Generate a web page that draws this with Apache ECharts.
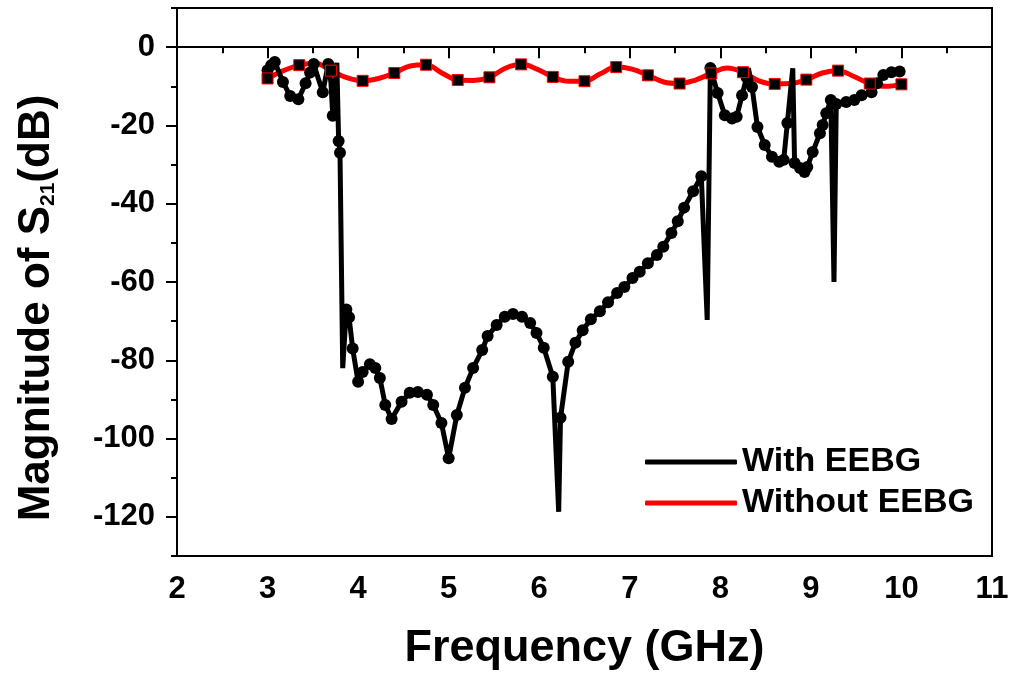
<!DOCTYPE html>
<html>
<head>
<meta charset="utf-8">
<script src="https://cdn.jsdelivr.net/npm/echarts@6/dist/echarts.min.js"></script>
<style>
html,body{margin:0;padding:0;background:#fff;}
#chart{width:1012px;height:677px;}
</style>
</head>
<body>
<div id="chart"></div>
<script>
// ---- Data ----
// "With EEBG" (black), frequency in GHz, S21 in dB, and whether a dot marker is drawn
var withFreq = [3.00,3.04,3.08,3.17,3.25,3.34,3.42,3.47,3.51,3.56,3.61,3.67,3.70,3.72,3.765,3.785,3.80,3.83,3.87,3.90,3.94,4.00,4.05,4.13,4.19,4.24,4.30,4.37,4.48,4.57,4.66,4.76,4.83,4.92,5.00,5.09,5.18,5.27,5.37,5.43,5.53,5.62,5.71,5.81,5.90,5.97,6.05,6.15,6.215,6.235,6.32,6.40,6.48,6.57,6.67,6.76,6.86,6.94,7.03,7.11,7.20,7.30,7.37,7.46,7.53,7.60,7.70,7.79,7.855,7.89,7.97,8.05,8.13,8.18,8.24,8.29,8.31,8.35,8.41,8.49,8.57,8.65,8.70,8.74,8.80,8.82,8.88,8.93,8.96,9.02,9.10,9.13,9.17,9.22,9.255,9.28,9.39,9.48,9.56,9.67,9.73,9.80,9.89,9.98];
var withVal  = [-5.9,-4.6,-3.8,-8.9,-12.5,-13.3,-9.2,-6.5,-4.3,-8.0,-11.5,-4.3,-9.0,-17.5,-4.0,-24.0,-27.0,-82.0,-67.0,-69.0,-77.0,-85.5,-83.0,-81.0,-82.0,-84.5,-91.4,-95.0,-90.6,-88.3,-88.1,-88.8,-91.4,-96.0,-105.0,-94.0,-87.0,-82.0,-77.4,-73.8,-71.0,-68.9,-68.2,-68.9,-70.5,-73.0,-76.8,-84.2,-118.7,-94.7,-80.4,-75.5,-72.3,-69.5,-67.5,-65.2,-62.8,-61.3,-59.0,-57.4,-55.2,-53.1,-51.0,-47.5,-44.5,-41.0,-36.8,-33.0,-69.7,-5.3,-11.7,-17.4,-18.2,-17.8,-12.3,-7.7,-5.4,-10.2,-20.4,-25.0,-28.0,-29.3,-28.8,-19.4,-5.4,-29.6,-30.9,-31.9,-30.6,-26.8,-22.0,-19.9,-16.9,-13.5,-60.0,-14.5,-14.0,-13.5,-12.3,-11.5,-9.2,-7.1,-6.4,-6.2];
var withDot  = [1,1,1,1,1,1,1,1,1,0,1,1,0,1,0,1,1,0,1,1,1,1,1,1,1,1,1,1,1,1,1,1,1,1,1,1,1,1,1,1,1,1,1,1,1,1,1,1,0,1,1,1,1,1,1,1,1,1,1,1,1,1,1,1,1,1,1,1,0,1,1,1,1,1,1,1,0,1,1,1,1,1,1,1,0,1,1,1,1,1,1,1,1,1,0,1,1,1,1,1,1,1,1,1];

// "Without EEBG" (red), with square markers on every other point
var withoutFreq = [3.0,3.175,3.35,3.525,3.7,3.875,4.05,4.225,4.4,4.575,4.75,4.925,5.1,5.275,5.45,5.625,5.8,5.975,6.15,6.325,6.5,6.675,6.85,7.025,7.2,7.375,7.55,7.725,7.9,8.075,8.25,8.425,8.6,8.775,8.95,9.125,9.3,9.475,9.65,9.825,10.0];
var withoutVal  = [-8.0,-6.0,-4.6,-4.1,-6.0,-7.8,-8.6,-8.0,-6.6,-4.8,-4.5,-6.6,-8.4,-8.5,-7.7,-5.4,-4.4,-5.6,-7.6,-8.7,-8.7,-6.8,-5.1,-5.6,-7.2,-8.9,-9.3,-8.4,-6.7,-5.3,-6.4,-8.6,-9.4,-9.3,-8.3,-6.6,-6.0,-7.5,-9.3,-10.0,-9.5];
var withoutSquare = [1,0,1,0,1,0,1,0,1,0,1,0,1,0,1,0,1,0,1,0,1,0,1,0,1,0,1,0,1,0,1,0,1,0,1,0,1,0,1,0,1];

// Axis ticks
var xTicks = [2,3,4,5,6,7,8,9,10,11];
var yMajorTicks = [-120,-100,-80,-60,-40,-20,0];

var FONT = '"Liberation Sans", Arial, sans-serif';

var blackData = withFreq.map(function (f, i) {
  return { value: [f, withVal[i]], symbol: withDot[i] ? 'circle' : 'none' };
});
var redLine = withoutFreq.map(function (f, i) { return [f, withoutVal[i]]; });
var redSquares = [];
withoutFreq.forEach(function (f, i) { if (withoutSquare[i]) redSquares.push([f, withoutVal[i]]); });

var chart = echarts.init(document.getElementById('chart'), null, { renderer: 'canvas' });
chart.setOption({
  animation: false,
  backgroundColor: '#ffffff',
  grid: { left: 177, right: 20, top: 8, bottom: 121, show: true, borderColor: '#000', borderWidth: 2, backgroundColor: 'transparent' },
  legend: {
    data: ['With EEBG', 'Without EEBG'],
    orient: 'vertical',
    left: 640, top: 440,
    icon: 'roundRect',
    itemWidth: 92, itemHeight: 5, itemGap: 7,
    textStyle: { fontSize: 34, fontWeight: 'bold', color: '#000', fontFamily: FONT, lineHeight: 34 }
  },
  xAxis: {
    type: 'value', min: 2, max: 11, interval: 1,
    name: 'Frequency (GHz)', nameLocation: 'middle', nameGap: 70,
    nameTextStyle: { fontSize: 45, fontWeight: 'bold', color: '#000', fontFamily: FONT },
    axisLine: { lineStyle: { color: '#000', width: 2 } },
    axisTick: { length: 11, lineStyle: { color: '#000', width: 2 } },
    minorTick: { show: true, splitNumber: 2, length: 6, lineStyle: { color: '#000', width: 2 } },
    axisLabel: { fontSize: 31, fontWeight: 'bold', color: '#000', fontFamily: FONT, margin: 18,
      customValues: xTicks },
    splitLine: { show: false }
  },
  yAxis: [{
    type: 'value', min: -130, max: 10, interval: 10, position: 'left',
    name: 'Magnitude of S{sub|21}(dB)', nameLocation: 'middle', nameGap: 118,
    nameTextStyle: { fontSize: 44, fontWeight: 'bold', color: '#000', fontFamily: FONT, padding: [0, 52, 0, 0],
      rich: { sub: { fontSize: 21, fontWeight: 'bold', color: '#000', fontFamily: FONT, verticalAlign: 'bottom', lineHeight: 20 } } },
    axisLine: { lineStyle: { color: '#000', width: 2 } },
    axisTick: { length: 11, customValues: yMajorTicks, lineStyle: { color: '#000', width: 2 } },
    axisLabel: { fontSize: 31, fontWeight: 'bold', color: '#000', fontFamily: FONT, margin: 22, customValues: yMajorTicks },
    splitLine: { show: false }
  }, {
    type: 'value', min: -130, max: 10, interval: 10, position: 'left', offset: 0,
    axisLine: { show: false },
    axisTick: { length: 6, lineStyle: { color: '#000', width: 2 } },
    axisLabel: { show: false },
    splitLine: { show: false }
  }],
  series: [{
    name: 'Without EEBG', type: 'line', data: redLine, showSymbol: false, smooth: 0.4,
    color: '#ff0000', itemStyle: { color: '#ff0000' },
    lineStyle: { color: '#ff0000', width: 5 }, z: 2
  }, {
    name: 'With EEBG', type: 'line', data: blackData, symbol: 'circle', symbolSize: 12,
    color: '#000', itemStyle: { color: '#000' },
    lineStyle: { color: '#000', width: 5 }, z: 3
  }, {
    name: 'Without EEBG squares', type: 'scatter', data: redSquares, symbol: 'rect', symbolSize: 11,
    itemStyle: { color: '#000', borderColor: '#ff0000', borderWidth: 1, opacity: 1 }, z: 4
  }]
});
</script>
</body>
</html>
